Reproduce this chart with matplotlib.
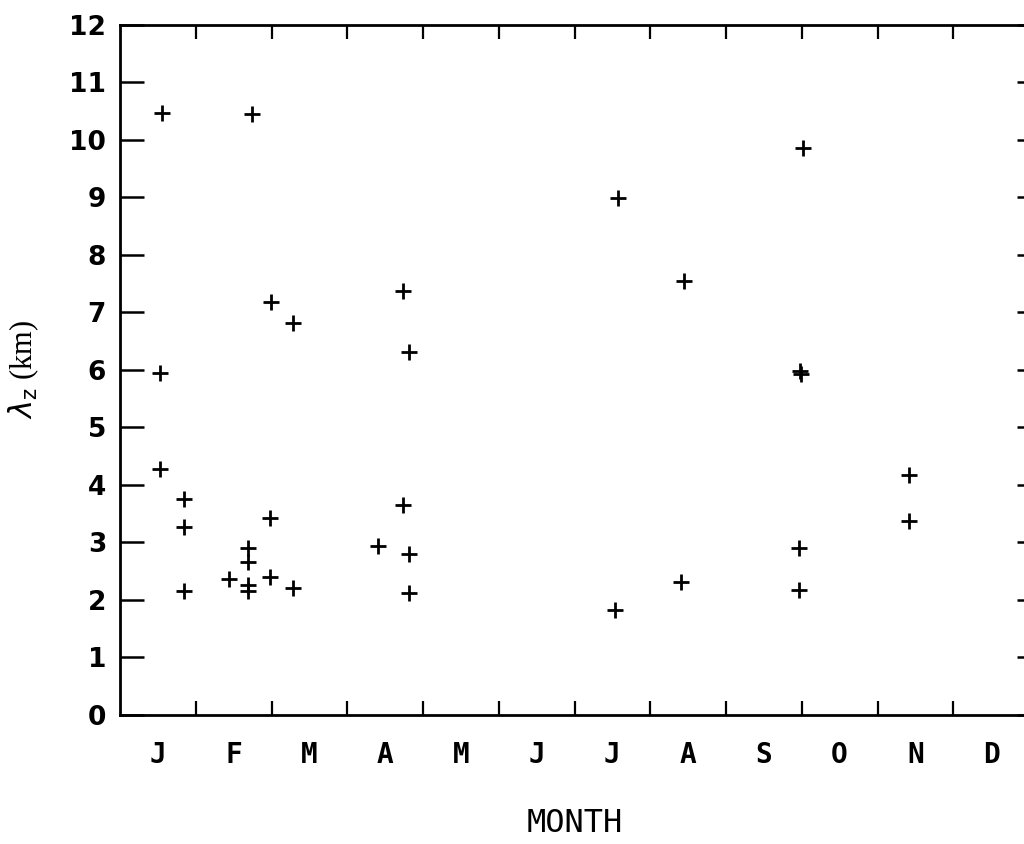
import matplotlib
matplotlib.use("Agg")
import matplotlib.pyplot as plt

# Data: month position (0 = 1 Jan, 12 = 31 Dec) and vertical wavelength (km)
month_pos = [0.55, 0.53, 0.53, 0.85, 0.85, 0.84,
             1.74, 1.44, 1.69, 1.69, 1.69, 1.69, 1.99, 1.98, 1.98,
             2.29, 2.28,
             3.40, 3.74, 3.82, 3.74, 3.81, 3.81,
             6.58, 6.54,
             7.44, 7.41,
             9.01, 8.98, 8.99, 8.97, 8.97,
             10.41, 10.41]
lambda_z = [10.46, 5.94, 4.27, 3.75, 3.26, 2.15,
            10.44, 2.36, 2.91, 2.66, 2.26, 2.15, 7.17, 3.42, 2.40,
            6.82, 2.20,
            2.94, 7.36, 6.31, 3.65, 2.79, 2.12,
            8.99, 1.82,
            7.55, 2.31,
            9.86, 5.97, 5.93, 2.90, 2.17,
            4.17, 3.37]

month_labels = ["J", "F", "M", "A", "M", "J", "J", "A", "S", "O", "N", "D"]
y_ticks = list(range(0, 13))

W, H = 1024, 844
fig = plt.figure(figsize=(W / 100, H / 100), dpi=100)
left, right, bottom, top = 120, 1029, 715, 24.5
ax = fig.add_axes([left / W, (H - bottom) / H, (right - left) / W, (bottom - top) / H])

ax.plot(month_pos, lambda_z, linestyle="none", marker="+", color="black",
        markersize=11, markeredgewidth=2.0)

ax.set_xlim(0, 12)
ax.set_ylim(0, 12)

for s in ax.spines.values():
    s.set_linewidth(2.0)
    s.set_color("black")

# x: boundary ticks (major, unlabeled) and month labels (minor, centered)
ax.set_xticks(list(range(1, 12)))
ax.set_xticklabels([])
ax.set_xticks([i + 0.5 for i in range(12)], minor=True)
ax.set_xticklabels(month_labels, minor=True,
                   fontfamily="DejaVu Sans Mono", fontweight="bold", fontsize=20)
ax.tick_params(axis="x", which="major", direction="in", length=10, width=1.6,
               top=True, bottom=True)
ax.tick_params(axis="x", which="minor", length=0, pad=19)

# y: left ticks long, right ticks shorter
ax.set_yticks(y_ticks)
ax.set_yticklabels([str(v) for v in y_ticks], fontfamily="DejaVu Sans",
                   fontweight="bold", fontsize=19)
ax.tick_params(axis="y", which="major", direction="in", length=17, width=1.8,
               left=True, right=False, pad=10)
sec = ax.secondary_yaxis("right")
sec.set_yticks(y_ticks)
sec.set_yticklabels([])
sec.tick_params(direction="in", length=9, width=1.8)
sec.spines["right"].set_linewidth(2.0)

ax.set_xlabel("MONTH", fontfamily="DejaVu Sans Mono", fontsize=23, labelpad=28)
plt.rcParams["mathtext.fontset"] = "stix"
ax.set_ylabel(r"$\lambda_{\rm z}$ (km)", fontfamily="Liberation Serif",
              fontsize=22, labelpad=20)

fig.savefig("out.png", dpi=100, facecolor="white")
